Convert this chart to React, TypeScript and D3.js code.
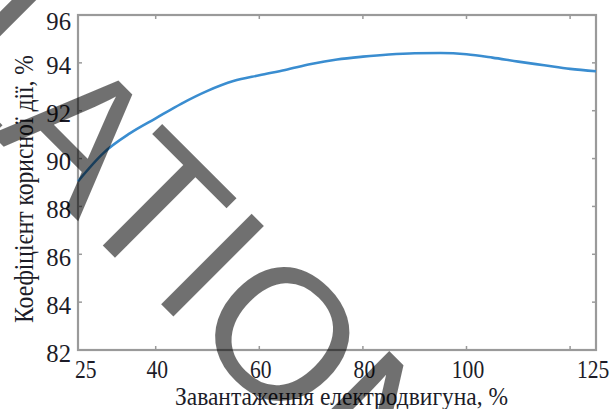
import React from "react";
import * as d3 from "d3";

const loadPct = [25, 30, 35, 40, 45, 50, 55, 60, 65, 70, 75, 80, 85, 90, 95, 100, 105, 110, 115, 120, 125];
const efficiency = [89.05, 90.25, 91.05, 91.68, 92.3, 92.83, 93.24, 93.48, 93.7, 93.95, 94.14, 94.26, 94.35, 94.4, 94.41, 94.36, 94.22, 94.05, 93.9, 93.75, 93.65];
const xTickMarks = [40, 60, 80, 100, 120];
const xTickLabels = [25, 40, 60, 80, 100, 125];
const yTicks = [82, 84, 86, 88, 90, 92, 94, 96];
const xTitle = "Завантаження електродвигуна, %";
const yTitle = "Коефіцієнт корисної дії, %";
const watermarkLead = "L";
const watermarkMain = "ATION";

const W = 610;
const H = 409;
const M = { left: 78, right: 596, top: 15, bottom: 350 };

export default function App() {
  const x = d3.scaleLinear().domain([25, 125]).range([M.left, M.right]);
  const y = d3.scaleLinear().domain([82, 96]).range([M.bottom, M.top]);
  const line = d3
    .line<number>()
    .x((_, i) => x(loadPct[i]))
    .y((d) => y(d))
    .curve(d3.curveMonotoneX);

  const serif = "'Liberation Serif', 'Times New Roman', serif";
  const frame = "#9a9a9a";
  const textCol = "#1c1c28";
  const tl = 4;

  return (
    <svg
      width={W}
      height={H}
      style={{ position: "absolute", left: 0, top: 0, background: "#fff" }}
    >
      <rect x={0} y={0} width={W} height={H} fill="#fff" />
      {xTickMarks.map((v) => (
        <g key={"xt" + v} stroke={frame} strokeWidth={1.5}>
          <line x1={x(v)} x2={x(v)} y1={M.bottom} y2={M.bottom - tl} />
          <line x1={x(v)} x2={x(v)} y1={M.top} y2={M.top + tl} />
        </g>
      ))}
      {yTicks.slice(1, -1).map((v) => (
        <g key={"yt" + v} stroke={frame} strokeWidth={1.5}>
          <line x1={M.left} x2={M.left + tl} y1={y(v)} y2={y(v)} />
          <line x1={M.right} x2={M.right - tl} y1={y(v)} y2={y(v)} />
        </g>
      ))}
      <rect
        x={M.left}
        y={M.top}
        width={M.right - M.left}
        height={M.bottom - M.top}
        fill="none"
        stroke={frame}
        strokeWidth={2.2}
      />
      <path
        d={line(efficiency) || ""}
        fill="none"
        stroke="#3a8dd0"
        strokeWidth={2.6}
      />
      {yTicks.map((v) => (
        <text
          key={"yl" + v}
          transform={`translate(71,${y(v) + (v === 96 ? 15 : 11.5)}) scale(0.95,1)`}
          textAnchor="end"
          style={{ fontFamily: serif }}
          fontSize={26}
          fill={textCol}
        >
          {v}
        </text>
      ))}
      {xTickLabels.map((v) => {
        const px = v === 25 ? x(v) - 3 : v === 125 ? x(v) - 19 : x(v) + 1.5;
        const anchor = v === 25 || v === 125 ? "start" : "middle";
        return (
          <text
            key={"xl" + v}
            transform={`translate(${px},378) scale(0.83,1)`}
            textAnchor={anchor}
            style={{ fontFamily: serif }}
            fontSize={26}
            fill={textCol}
          >
            {v}
          </text>
        );
      })}
      <text
        x={175}
        y={405}
        style={{ fontFamily: serif }}
        fontSize={25}
        fill={textCol}
        textLength={333}
        lengthAdjust="spacingAndGlyphs"
      >
        {xTitle}
      </text>
      <text
        transform="translate(33,323) rotate(-90)"
        x={0}
        y={0}
        style={{ fontFamily: serif }}
        fontSize={27}
        fill={textCol}
        textLength={268}
        lengthAdjust="spacingAndGlyphs"
      >
        {yTitle}
      </text>
      <text
        transform="rotate(45)"
        y={101}
        style={{ fontFamily: "'Liberation Sans', Arial, sans-serif" }}
        fontSize={186}
        fill="#000"
        fillOpacity={0.56}
      >
        <tspan x={-7}>{watermarkLead}</tspan>
        <tspan x={88}>{watermarkMain}</tspan>
      </text>
    </svg>
  );
}
